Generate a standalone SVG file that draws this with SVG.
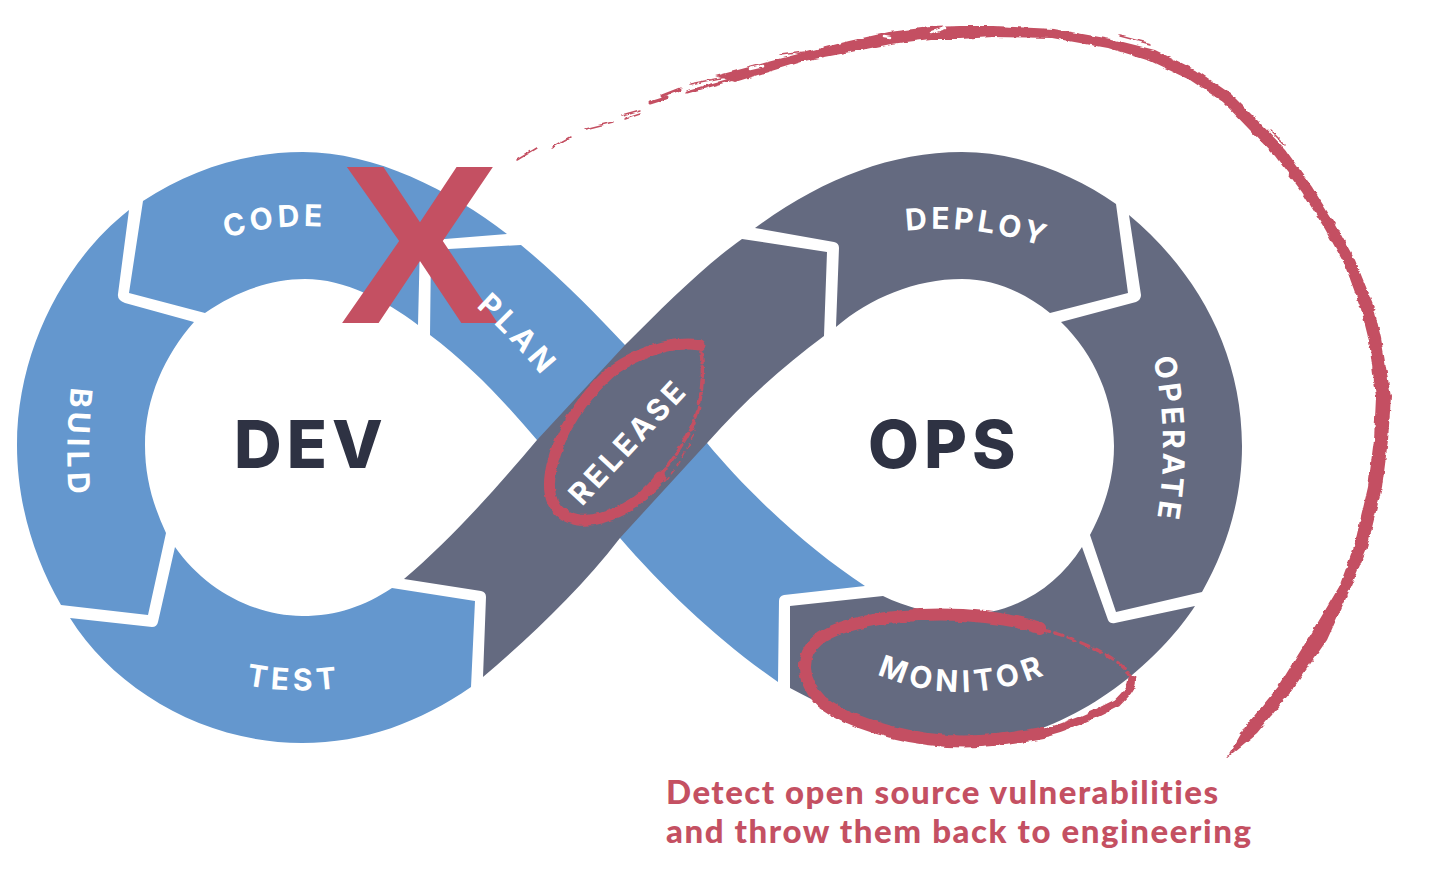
<svg xmlns="http://www.w3.org/2000/svg" width="1434" height="888" viewBox="0 0 1434 888">
<style>
.b{fill:#6497ce}
.g{fill:#646a80}
.l{font-family:Inter,"Liberation Sans",sans-serif;font-weight:700;font-size:30px;fill:#fff}
.h{font-family:Inter,"Liberation Sans",sans-serif;font-weight:800;font-size:66px;fill:#2e3243;letter-spacing:5px}
.t{font-family:Lato,"Liberation Sans",sans-serif;font-weight:900;font-size:33px;fill:#c45062;font-variant-ligatures:none}
.r{fill:#c45062}
.s{fill:none;stroke:#c45062;stroke-linecap:round;stroke-linejoin:round}
.w{fill:none;stroke:#fff;stroke-linecap:round}
</style>
<defs>
<filter id="rough" x="-5%" y="-5%" width="110%" height="110%">
<feTurbulence type="fractalNoise" baseFrequency="0.09 0.16" numOctaves="3" seed="7"/>
<feDisplacementMap in="SourceGraphic" scale="4" xChannelSelector="R" yChannelSelector="G"/>
</filter>
<path id="pCode" d="M226,238 Q275,223 330,227"/>
<path id="pPlan" d="M476,307 Q510,337 545,380"/>
<path id="pBuild" d="M71,387 Q65,440 69,500"/>
<path id="pTest" d="M246,685 Q290,694 338,688"/>
<path id="pRelease" d="M582,507 L700,380"/>
<path id="pDeploy" d="M906,231 Q975,222 1054,250"/>
<path id="pOperate" d="M1153,358 Q1172,440 1155,530"/>
<path id="pMonitor" d="M877,674 Q963,712 1056,670"/>
</defs>
<g id="node-build"><path class="b" d="M129,210 C65,260 17,350 17,445 C17,505 35,560 61,605 L148,615 L166,533 C153,505 145,478 145,445 C145,398 165,355 194,322 L125,303 Q117,300 118,294 Z"/>
<text class="l" letter-spacing="4.6"><textPath href="#pBuild">BUILD</textPath></text></g>
<g id="node-code"><path class="b" d="M143,201 C190,170 245,152 303,152 C375,152 450,190 507,234 L420,241 L418,325 C385,300 345,279 305,279 C270,279 235,292 205,313 L129,293 Z"/>
<text class="l" letter-spacing="4"><textPath href="#pCode">CODE</textPath></text></g>
<g id="node-test"><path class="b" d="M175,547 C205,590 255,616 302,616 C337,616 365,606 392,588 L475,601 L471,687 C420,722 365,743 302,743 C205,743 115,690 70,618 L152,627 Q157,627 158,622 Z"/>
<text class="l" letter-spacing="4.6"><textPath href="#pTest">TEST</textPath></text></g>
<g id="node-plan"><path class="b" d="M521,245 C560,277 595,313 625,345 L707,443 C750,495 810,550 865,586 L784,595 Q779,596 779,601 L778,682 C720,642 665,590 620,538 L537,440 C505,402 470,365 430,335 L431,250 Z"/></g>
<g id="node-release"><path class="g" d="M404,579 C450,540 495,490 537,440 L625,345 C665,305 705,265 742,239 L827,252 L824,336 C785,365 745,400 708,442 L620,538 C580,590 530,637 483,677 L486,597 Q486,592 481,591 Z"/>
<text class="l" letter-spacing="3.6"><textPath href="#pRelease">RELEASE</textPath></text></g>
<g id="node-deploy"><path class="g" d="M755,228 C820,180 890,152 962,152 C1020,152 1075,175 1116,204 L1128,293 L1050,313 C1025,293 995,279 962,279 C915,279 870,298 836,327 L839,248 Q839,243 834,242 Z"/>
<text class="l" letter-spacing="3.8"><textPath href="#pDeploy">DEPLOY</textPath></text></g>
<g id="node-operate"><path class="g" d="M1129,215 C1195,270 1242,350 1242,446 C1242,498 1227,548 1202,592 L1116,612 L1090,535 C1105,507 1114,478 1114,446 C1114,400 1095,355 1061,322 L1136,302 Q1141,300 1141,295 Z"/>
<text class="l" letter-spacing="3.7"><textPath href="#pOperate">OPERATE</textPath></text></g>
<g id="node-monitor"><path class="g" d="M790,606 L883,596 C905,607 935,615 962,615 C1010,615 1055,590 1082,547 L1108,620 Q1110,624 1115,623 L1195,606 C1160,660 1070,743 962,743 C900,743 840,715 790,688 Z"/>
<text class="l" letter-spacing="4.6"><textPath href="#pMonitor">MONITOR</textPath></text></g>
<g id="node-dev"><text class="h" x="234" y="468">DEV</text></g>
<g id="node-ops"><text class="h" x="868" y="468">OPS</text></g>
<g id="node-x"><text transform="translate(340,323) scale(1.055,1)" font-family="'Liberation Sans',Arial,sans-serif" font-weight="700" font-size="227" fill="#c45062">X</text></g>
<g id="node-plan-label"><text class="l" letter-spacing="4.2"><textPath href="#pPlan">PLAN</textPath></text></g>
<g id="connectors">
<g filter="url(#rough)">
<path class="r" d="M715,76 L802,53 L849,41 L889,32 L930,27 L960,26 L993,26 L1054,29 L1111,39 L1155,50 L1196,70 L1231,94 L1258,121 L1285,149 L1312,187 L1335,224 L1355,260 L1373,304 L1381,338 L1391,397 L1388,440 L1382,487 L1367,548 L1351,587 L1327,640 L1290,693 L1257,733 L1227,758 L1245,727 L1278,687 L1311,634 L1339,587 L1354,547 L1368,487 L1374,440 L1376,397 L1369,341 L1361,309 L1345,265 L1325,229 L1302,192 L1275,156 L1248,128 L1223,102 L1190,80 L1150,61 L1108,48 L1052,38 L993,37 L960,39 L930,39 L891,44 L851,52 L804,61 L735,82 Z"/>
<path class="w" stroke-width="2.5" d="M750,69 L763,66 M884,37 L890,38 M932,32 L945,28"/>
<path class="s" stroke-width="1.5" d="M517,160 L537,148 M552,147 L570,137 M585,129 L613,122 M622,115 L640,110 M625,118 L640,113"/>
<path class="s" stroke-width="3" d="M650,103 L666,98 M662,96 L680,89 M687,92 L712,85 L737,78"/>
<path class="s" stroke-width="1.5" d="M690,84 L725,77 M780,55 L805,52 M1120,36 L1150,44 M1270,130 L1285,145 M1345,245 L1352,258"/>
<path class="s" stroke-width="11" d="M700,345 C680,342 650,346 613,370 C585,395 562,425 552,465 C545,495 552,515 578,520 C605,523 640,505 660,477"/>
<path class="s" stroke-width="3.5" stroke-dasharray="10 4" d="M660,477 C680,450 697,425 700,400 C703,380 703,365 701,352"/>
<path class="s" stroke-width="1.5" stroke-dasharray="5 5" d="M650,495 C675,475 688,450 695,430"/>
<path class="s" stroke-width="12" d="M1040,628 C1010,618 965,613 920,615 C880,617 835,625 818,640 C800,655 800,680 822,702 C850,722 895,737 947,741 C985,743 1015,738 1043,733"/>
<path class="s" stroke-width="8" d="M1043,733 C1070,726 1100,712 1117,703 C1125,695 1132,688 1132,680"/>
<path class="s" stroke-width="3" stroke-dasharray="9 5" d="M1132,680 C1128,668 1110,655 1093,648 C1075,640 1060,633 1043,630"/>
</g>
</g>
<g id="note">
<text class="t" x="666" y="804" textLength="552" lengthAdjust="spacing">Detect open source vulnerabilities</text>
<text class="t" x="666" y="843" textLength="585" lengthAdjust="spacing">and throw them back to engineering</text>
</g>
</svg>
